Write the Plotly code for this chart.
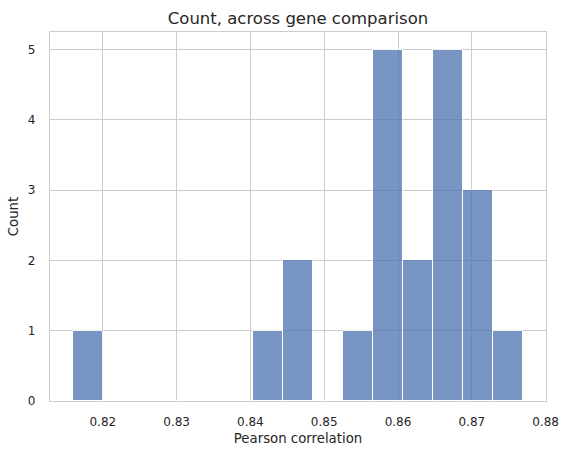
import plotly.graph_objects as go

# histogram: 15 equal bins
bin_start = 0.8159
bin_end = 0.8770
counts = [1, 0, 0, 0, 0, 0, 1, 2, 0, 1, 5, 2, 5, 3, 1]
x_ticks = [0.82, 0.83, 0.84, 0.85, 0.86, 0.87, 0.88]
y_ticks = [0, 1, 2, 3, 4, 5]

bin_width = (bin_end - bin_start) / len(counts)
centers = [bin_start + bin_width * (i + 0.5) for i in range(len(counts))]

TEXT = "#262626"
GRID = "#cccccc"
FONT = "DejaVu Sans"

fig = go.Figure(
    go.Bar(
        x=centers,
        y=counts,
        width=bin_width,
        marker=dict(color="#4C72B0", line=dict(color="white", width=1)),
        opacity=0.75,
    )
)

pad = (bin_end - bin_start) * 0.05

fig.update_layout(
    width=568,
    height=456,
    template="plotly_white",
    plot_bgcolor="white",
    paper_bgcolor="white",
    showlegend=False,
    bargap=0,
    margin=dict(l=50, r=22, t=32, b=55),
    font=dict(family=FONT, color=TEXT, size=12),
    title=dict(
        text="Count, across gene comparison",
        x=0.5,
        xref="paper",
        xanchor="center",
        y=1 - 18 / 456,
        yref="container",
        yanchor="middle",
        font=dict(size=16.5, color=TEXT, family=FONT),
    ),
)

fig.update_xaxes(
    range=[bin_start - pad, bin_end + pad],
    tickvals=x_ticks,
    ticktext=[f"{v:.2f}" for v in x_ticks],
    tickfont=dict(size=12, color=TEXT),
    ticks="outside",
    ticklen=9,
    tickcolor="rgba(0,0,0,0)",
    showgrid=True,
    gridcolor=GRID,
    gridwidth=1,
    zeroline=False,
    showline=True,
    mirror=True,
    linecolor=GRID,
    linewidth=1.25,
    automargin=False,
    title=dict(text="Pearson correlation", font=dict(size=13.3, color=TEXT), standoff=6),
)

fig.update_yaxes(
    range=[0, 5.25],
    tickvals=y_ticks,
    tickfont=dict(size=12, color=TEXT),
    ticks="outside",
    ticklen=11,
    tickcolor="rgba(0,0,0,0)",
    showgrid=True,
    gridcolor=GRID,
    gridwidth=1,
    zeroline=False,
    showline=True,
    mirror=True,
    linecolor=GRID,
    linewidth=1.25,
    automargin=False,
    title=dict(text="Count", font=dict(size=13.3, color=TEXT), standoff=6),
)

fig.write_html(
    "out.html",
    config=dict(displayModeBar=False),
    post_script="document.body.style.margin='0';document.body.style.overflow='hidden';",
)
